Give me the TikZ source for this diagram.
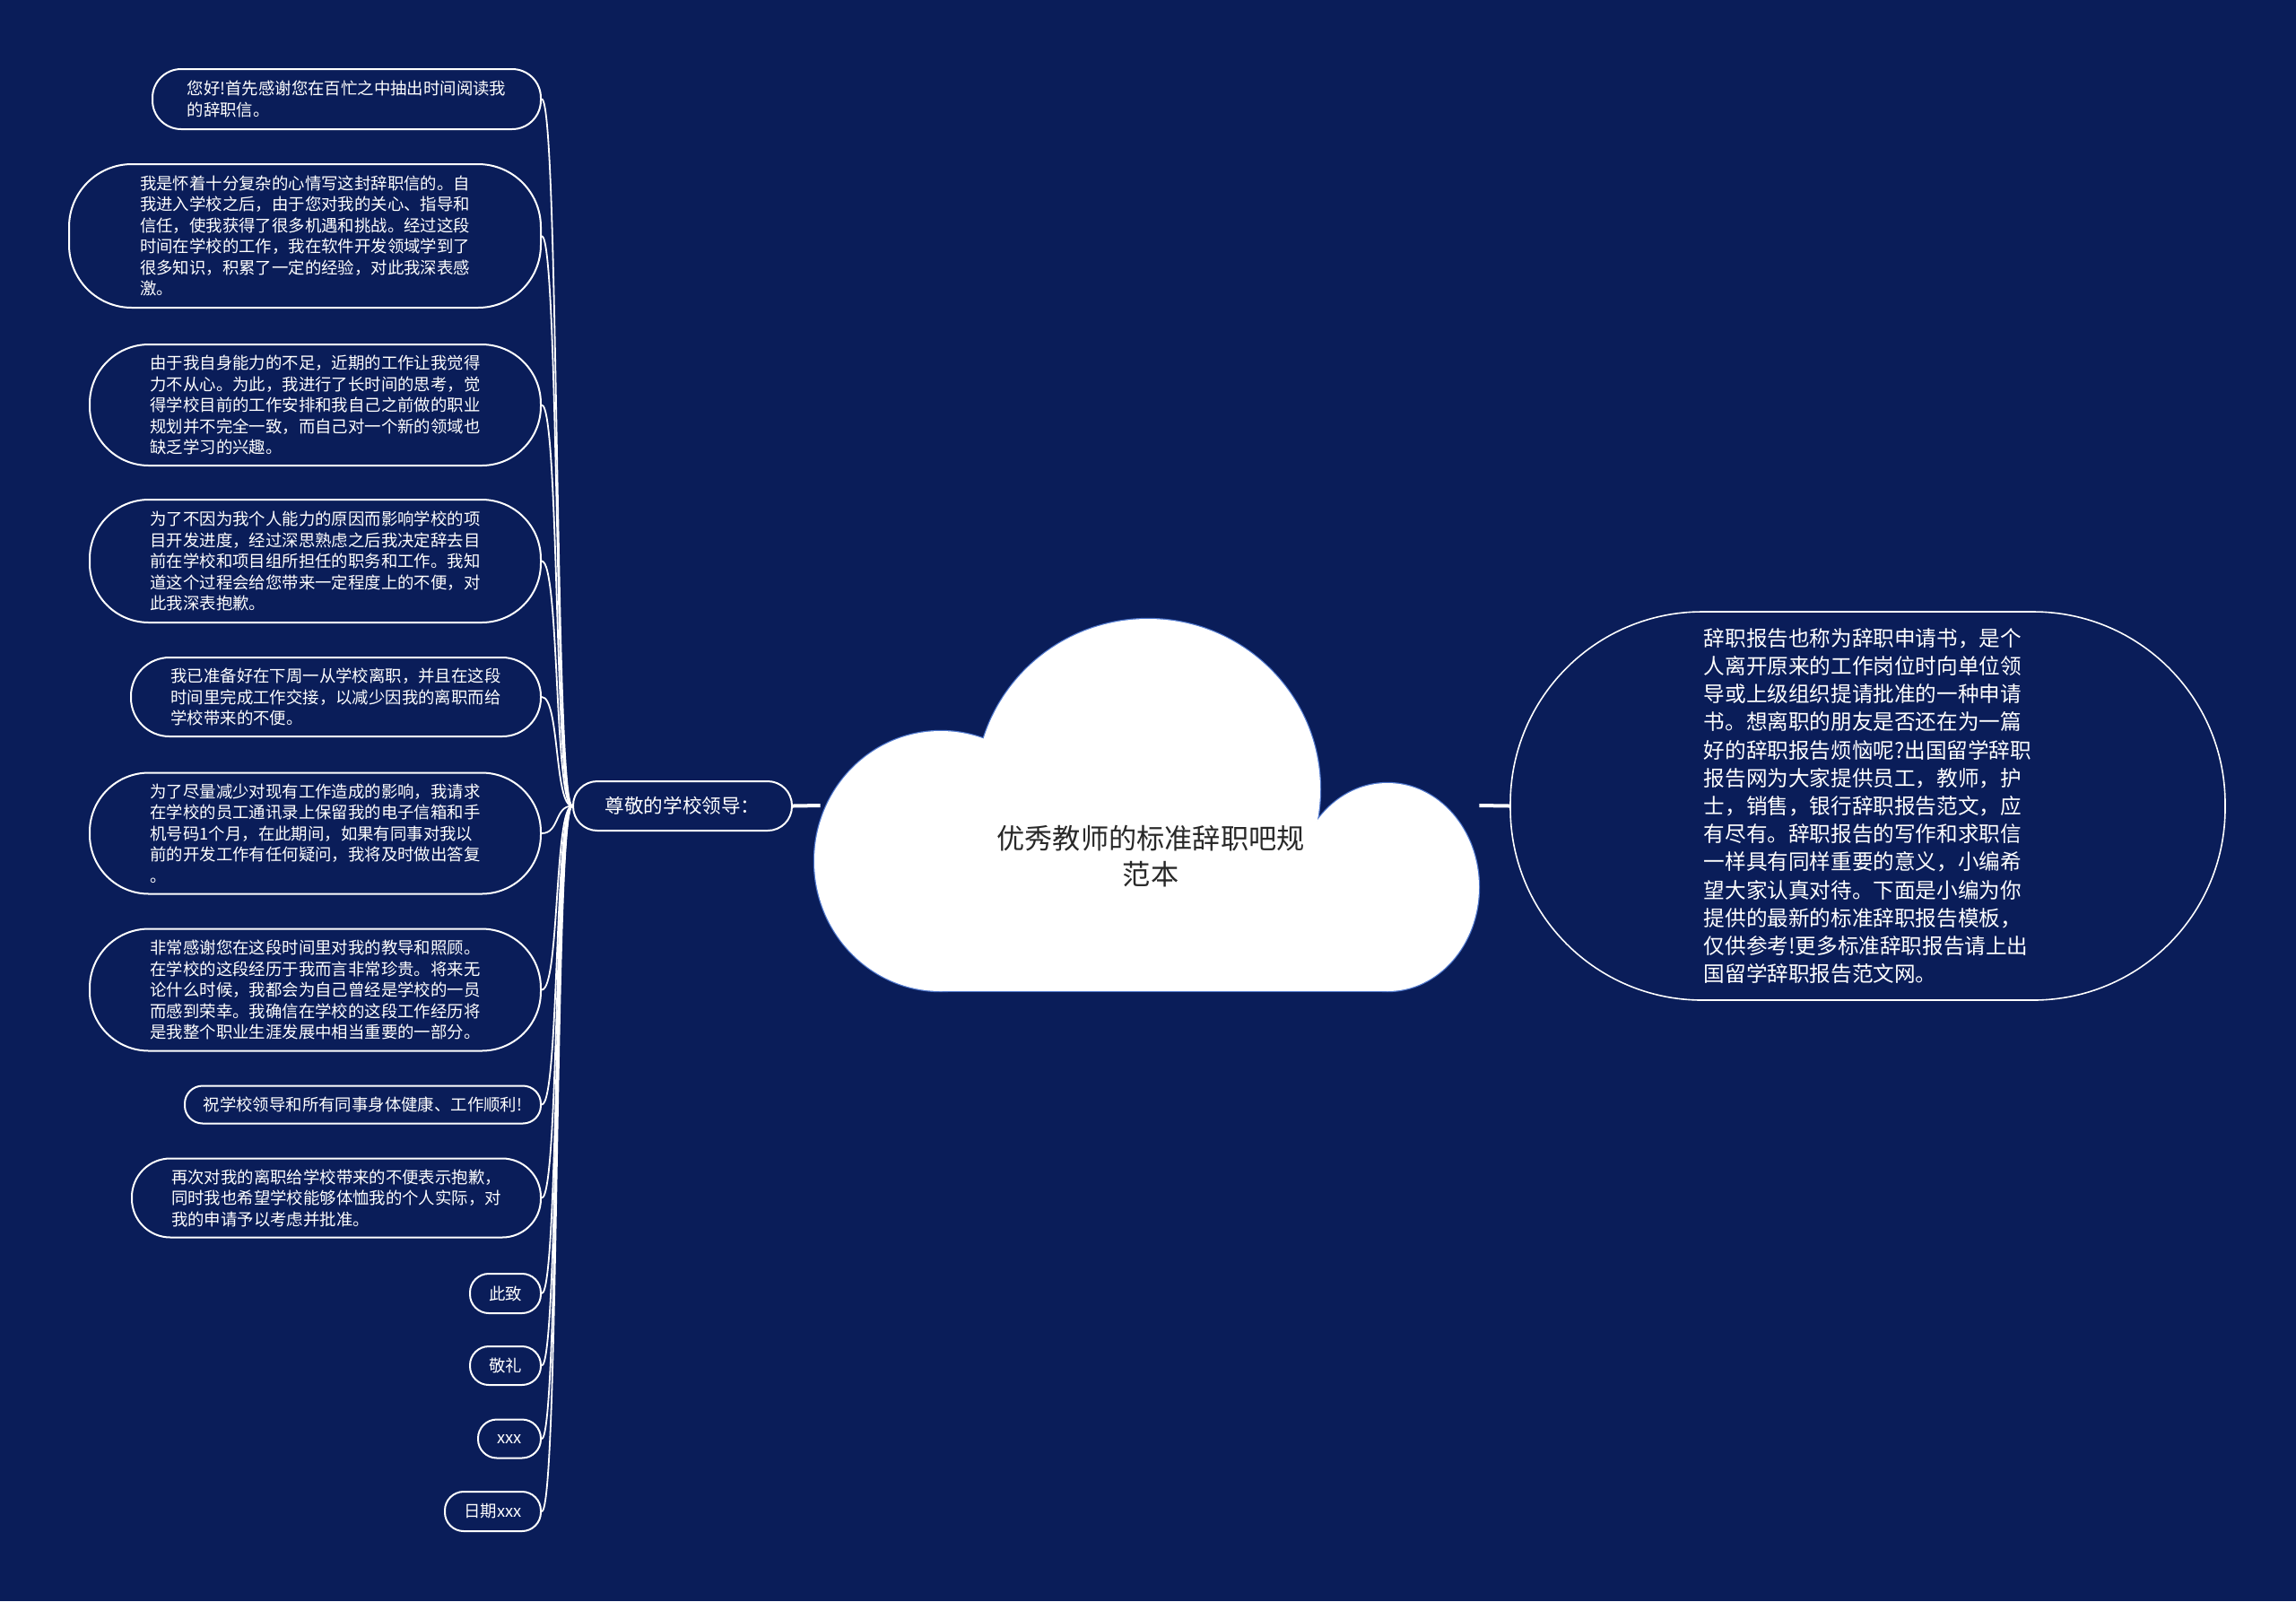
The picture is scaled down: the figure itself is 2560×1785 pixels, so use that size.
\documentclass[tikz,border=0pt]{standalone}
\usepackage{fontspec}
\setmainfont{Noto Sans CJK SC}
\definecolor{bgnavy}{RGB}{10,29,89}
\definecolor{cloudrim}{RGB}{80,120,205}
\definecolor{titlegray}{RGB}{40,40,40}

\begin{document}
\begin{tikzpicture}[x=0.5pt, y=-0.5pt,
	leaf/.style = {draw=white, line width=1pt, text=white, align=left, anchor=east, inner sep=0pt, font=\fontsize{9.2pt}{11.75pt}\selectfont},
	branch/.style = {draw=white, line width=0.9pt},
	trunk/.style = {draw=white, line width=2pt},
	rim/.style = {fill=white, draw=cloudrim, line width=1.2pt}]
	\fill [bgnavy] (0,0) rectangle (2560,1785);
	% cloud
	\filldraw [rim] (1049,960) ellipse (141 and 145);
	\filldraw [rim] (1280,880) ellipse (192 and 190);
	\filldraw [rim] (1547,989) ellipse (102 and 116);
	\filldraw [rim] (1049,960) rectangle (1547,1105);
	\fill [white] (1049,960) ellipse (141 and 145);
	\fill [white] (1280,880) ellipse (192 and 190);
	\fill [white] (1547,989) ellipse (102 and 116);
	\fill [white] (1049,960) rectangle (1547,1105);
	\node [minimum width=367pt, minimum height=208pt, inner sep=0pt] (cloud) at (1282,898) {};
	\node [text=titlegray, align=center, font=\fontsize{15.6pt}{20pt}\selectfont] (title) at (1283,955) {优秀教师的标准辞职吧规\\范本};
	\node [draw=white, line width=1pt, text=white, rounded corners=13.5pt, minimum width=122pt, minimum height=27.5pt, inner sep=0pt, font=\fontsize{10.8pt}{13pt}\selectfont] (root) at (761,898.5) {尊敬的学校领导：};
	\node [draw=white, line width=0.8pt, text=white, rounded corners=107pt, minimum width=398.5pt, minimum height=216.5pt, inner sep=0pt, align=left, font=\fontsize{11.8pt}{15.6pt}\selectfont] (desc) at (2082.5,898.5) {辞职报告也称为辞职申请书，是个\\人离开原来的工作岗位时向单位领\\导或上级组织提请批准的一种申请\\书。想离职的朋友是否还在为一篇\\好的辞职报告烦恼呢?出国留学辞职\\报告网为大家提供员工，教师，护\\士，销售，银行辞职报告范文，应\\有尽有。辞职报告的写作和求职信\\一样具有同样重要的意义，小编希\\望大家认真对待。下面是小编为你\\提供的最新的标准辞职报告模板，\\仅供参考!更多标准辞职报告请上出\\国留学辞职报告范文网。};
	\draw [trunk] (root.east) -- (cloud.west);
	\draw [trunk] (cloud.east) -- (desc.west);
	\node [leaf, minimum width=216.5pt, minimum height=33.5pt, rounded corners=16pt] (msg1) at (604,110.5) {您好!首先感谢您在百忙之中抽出时间阅读我\\的辞职信。};
	\node [leaf, minimum width=263pt, minimum height=80pt, rounded corners=35pt] (msg2) at (604,263) {我是怀着十分复杂的心情写这封辞职信的。自\\我进入学校之后，由于您对我的关心、指导和\\信任，使我获得了很多机遇和挑战。经过这段\\时间在学校的工作，我在软件开发领域学到了\\很多知识，积累了一定的经验，对此我深表感\\激。};
	\node [leaf, minimum width=251.5pt, minimum height=67.5pt, rounded corners=33pt] (msg3) at (604,451.5) {由于我自身能力的不足，近期的工作让我觉得\\力不从心。为此，我进行了长时间的思考，觉\\得学校目前的工作安排和我自己之前做的职业\\规划并不完全一致，而自己对一个新的领域也\\缺乏学习的兴趣。};
	\node [leaf, minimum width=251.5pt, minimum height=68.5pt, rounded corners=33pt] (msg4) at (604,625.5) {为了不因为我个人能力的原因而影响学校的项\\目开发进度，经过深思熟虑之后我决定辞去目\\前在学校和项目组所担任的职务和工作。我知\\道这个过程会给您带来一定程度上的不便，对\\此我深表抱歉。};
	\node [leaf, minimum width=228.5pt, minimum height=44pt, rounded corners=21.5pt] (msg5) at (604,777) {我已准备好在下周一从学校离职，并且在这段\\时间里完成工作交接，以减少因我的离职而给\\学校带来的不便。};
	\node [leaf, minimum width=251.5pt, minimum height=67.5pt, rounded corners=33pt] (msg6) at (604,929) {为了尽量减少对现有工作造成的影响，我请求\\在学校的员工通讯录上保留我的电子信箱和手\\机号码1个月，在此期间，如果有同事对我以\\前的开发工作有任何疑问，我将及时做出答复\\。};
	\node [leaf, minimum width=251.5pt, minimum height=68pt, rounded corners=33pt] (msg7) at (604,1103.5) {非常感谢您在这段时间里对我的教导和照顾。\\在学校的这段经历于我而言非常珍贵。将来无\\论什么时候，我都会为自己曾经是学校的一员\\而感到荣幸。我确信在学校的这段工作经历将\\是我整个职业生涯发展中相当重要的一部分。};
	\node [leaf, minimum width=198.5pt, minimum height=21pt, rounded corners=10pt] (msg8) at (604,1231.5) {祝学校领导和所有同事身体健康、工作顺利!};
	\node [leaf, minimum width=228pt, minimum height=44pt, rounded corners=21.5pt] (msg9) at (604,1335.5) {再次对我的离职给学校带来的不便表示抱歉，\\同时我也希望学校能够体恤我的个人实际，对\\我的申请予以考虑并批准。};
	\node [leaf, minimum width=39.5pt, minimum height=22pt, rounded corners=10.5pt] (msg10) at (604,1442) {此致};
	\node [leaf, minimum width=39.5pt, minimum height=21.5pt, rounded corners=10.5pt] (msg11) at (604,1522.5) {敬礼};
	\node [leaf, minimum width=35pt, minimum height=21.5pt, rounded corners=10.5pt] (msg12) at (604,1604) {xxx};
	\node [leaf, minimum width=53.5pt, minimum height=22pt, rounded corners=10.5pt] (msg13) at (604,1685) {日期xxx};
	\foreach \i in {1,...,13}{
	\draw [branch] (root.west) .. controls +(-20,0) and +(20,0) .. (msg\i.east);
	}
\end{tikzpicture}
\end{document}
